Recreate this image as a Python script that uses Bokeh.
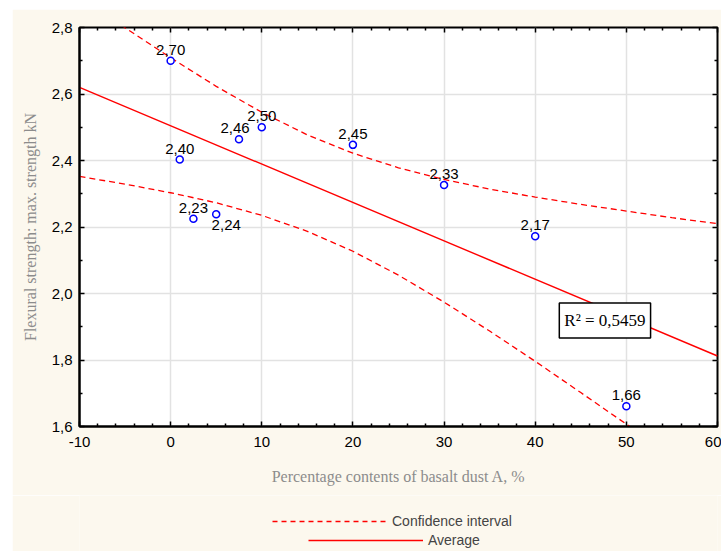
from bokeh.plotting import figure
from bokeh.layouts import column
from bokeh.models import (Range1d, FixedTicker, CustomJSTickFormatter, LinearAxis,
                          Legend, LegendItem, Label, ColumnDataSource)
from bokeh.core.properties import value
from bokeh.embed import file_html
from bokeh.resources import INLINE

# ---------------- data ----------------
basalt_pct = [0, 1, 2.5, 5, 7.5, 10, 20, 30, 40, 50]
strength = [2.700, 2.403, 2.225, 2.238, 2.464, 2.500, 2.447, 2.326, 2.172, 1.661]
point_labels = ["2,70", "2,40", "2,23", "2,24", "2,46", "2,50", "2,45", "2,33", "2,17", "1,66"]

fit_x = [-10, 60]
fit_y = [2.620, 1.812]

band_x = [-10, -5, 0, 5, 10, 15, 20, 25, 30, 35, 40, 45, 50, 55, 60]
band_upper = [2.892, 2.799, 2.709, 2.623, 2.545, 2.477, 2.422, 2.378, 2.343, 2.314,
              2.290, 2.268, 2.248, 2.228, 2.210]
band_lower = [2.352, 2.329, 2.303, 2.273, 2.235, 2.187, 2.127, 2.055, 1.974, 1.887,
              1.796, 1.702, 1.607, 1.510, 1.413]

r2_text = "R\u00b2 = 0,5459"
x_title = "Percentage contents of basalt dust A, %"
y_title = "Flexural strength: max. strength kN"
legend_ci = "Confidence interval"
legend_avg = "Average"

x_major = [-10, 0, 10, 20, 30, 40, 50, 60]
x_minor = [-8, -6, -4, -2, 2, 4, 6, 8, 12, 14, 16, 18, 22, 24, 26, 28, 32, 34, 36, 38,
           42, 44, 46, 48, 52, 54, 56, 58]
y_major = [1.6, 1.8, 2.0, 2.2, 2.4, 2.6, 2.8]
y_minor = [1.7, 1.9, 2.1, 2.3, 2.5, 2.7]

# ---------------- styles ----------------
CREAM = "#FCF8EE"
RED = "#FF0000"
BLUE = "#0000FF"
GRID = "#E2E2E2"
TITLE_GRAY = "#8C8C8C"
SANS = "Liberation Sans"
SERIF = "Liberation Serif"

# label offsets in screen pixels (style, not data)
label_dx = [0, 0, 0, 10, -4, 0, 0, 0, 0, 0]
label_dy = [-11, -11, -11, 11, -11, -11, -11, -11, -11, -11]

p = figure(width=709, height=486,
           x_range=Range1d(-10, 60), y_range=Range1d(1.6, 2.8),
           output_backend="svg", toolbar_location=None,
           min_border_left=67, min_border_right=4, min_border_top=18, min_border_bottom=69,
           background_fill_color="white", border_fill_color=CREAM,
           outline_line_color="black", outline_line_width=2)

xt = FixedTicker(ticks=x_major, minor_ticks=x_minor)
yt = FixedTicker(ticks=y_major, minor_ticks=y_minor)
yfmt = CustomJSTickFormatter(code="return tick.toFixed(1).replace('.', ',');")
xfmt = CustomJSTickFormatter(code="return tick.toFixed(0);")

for ax in (p.xaxis[0], p.yaxis[0]):
    ax.major_tick_in = 5
    ax.major_tick_out = 0
    ax.minor_tick_in = 3
    ax.minor_tick_out = 0
    ax.axis_line_width = 2
    ax.major_tick_line_width = 1.5
    ax.minor_tick_line_width = 1.5
    ax.major_label_text_font = SANS
    ax.major_label_text_font_size = "15px"
    ax.major_label_text_color = "black"
    ax.axis_label_text_font = SERIF
    ax.axis_label_text_font_size = "16px"
    ax.axis_label_text_font_style = "normal"
    ax.axis_label_text_color = TITLE_GRAY

p.xaxis[0].ticker = xt
p.yaxis[0].ticker = yt
p.xaxis[0].formatter = xfmt
p.yaxis[0].formatter = yfmt
p.xaxis[0].axis_label = x_title
p.yaxis[0].axis_label = y_title
p.xaxis[0].major_label_standoff = 10
p.yaxis[0].major_label_standoff = 7
p.xaxis[0].axis_label_standoff = 18
p.yaxis[0].axis_label_standoff = 10

# tick marks on the top and right edges of the frame (no labels)
blank = CustomJSTickFormatter(code="return '';")
for side, tk in (("right", yt), ("above", xt)):
    p.add_layout(LinearAxis(ticker=tk, formatter=blank, major_label_standoff=0,
                            major_label_text_font_size="0px",
                            major_tick_in=5, major_tick_out=0,
                            minor_tick_in=3, minor_tick_out=0,
                            major_tick_line_width=1.5, minor_tick_line_width=1.5,
                            axis_line_color=None), side)

p.xgrid.ticker = xt
p.ygrid.ticker = yt
p.grid.grid_line_color = GRID
p.grid.grid_line_width = 1.5

# confidence bands
r_up = p.line(band_x, band_upper, line_color=RED, line_width=1.3, line_dash="6 4")
r_lo = p.line(band_x, band_lower, line_color=RED, line_width=1.3, line_dash="6 4")
# regression line
r_fit = p.line(fit_x, fit_y, line_color=RED, line_width=1.4)

# points
src = ColumnDataSource(dict(x=basalt_pct, y=strength, lab=point_labels,
                            dx=label_dx, dy=label_dy))
p.scatter("x", "y", source=src, size=7, line_color=BLUE, line_width=1.5,
          fill_color="white", marker="circle")
p.text("x", "y", text="lab", source=src, x_offset="dx", y_offset="dy",
       text_font=value(SANS), text_font_size="15px", text_color="black",
       text_align="center", text_baseline="middle")

# R^2 box
p.add_layout(Label(x=47.65, y=1.919, text=r2_text, text_align="center",
                   text_baseline="middle", text_font=SERIF, text_font_size="17px",
                   text_color="black", background_fill_color="white",
                   border_line_color="black", border_line_width=1.5, padding=(5, 8)))

# ---------------- legend strip below the chart ----------------
# (frames of the column's plots are aligned, so this strip shares the chart's x range;
#  its y range keeps the sample lines out of view, only the legend shows)
lf = figure(width=709, height=56, x_range=p.x_range, y_range=Range1d(0, 1),
            output_backend="svg", toolbar_location=None,
            x_axis_location=None, y_axis_location=None, min_border=0,
            border_fill_color=CREAM, background_fill_color=CREAM, outline_line_color=None)
lf.grid.visible = False
l_ci = lf.line(band_x, band_upper, line_color=RED, line_width=1.3, line_dash="5 4")
l_avg = lf.line(fit_x, fit_y, line_color=RED, line_width=1.4)

common = dict(orientation="vertical", border_line_color=None,
              background_fill_alpha=0, padding=0, spacing=0, margin=0,
              glyph_width=115, glyph_height=16, label_height=16, label_standoff=5,
              label_text_font=SANS, label_text_font_size="14px")
lf.add_layout(Legend(items=[LegendItem(label=legend_ci, renderers=[l_ci])],
                     location=(193, 22), **common), "center")
lf.add_layout(Legend(items=[LegendItem(label=legend_avg, renderers=[l_avg])],
                     location=(229, 3), **common), "center")

page = column(p, lf, spacing=0, margin=(9, 0, 0, 12))
open("out.html", "w").write(file_html(page, INLINE))
